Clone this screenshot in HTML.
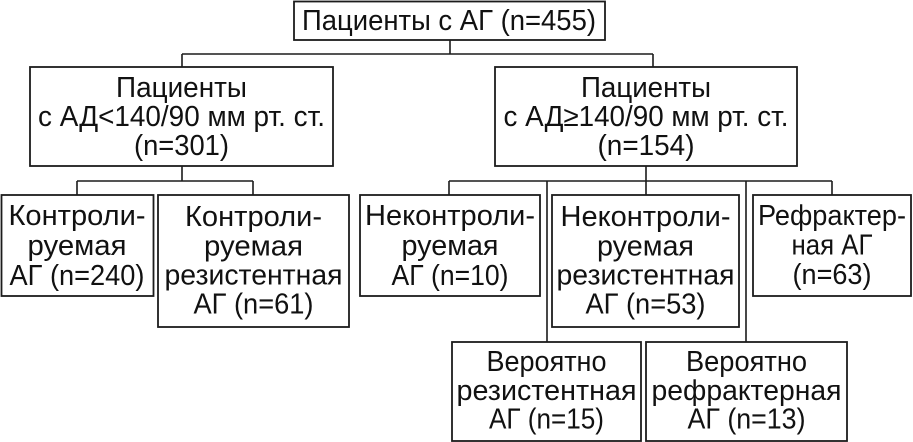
<!DOCTYPE html>
<html>
<head>
<meta charset="utf-8">
<style>
  html, body { margin: 0; padding: 0; background: #fff; }
  svg { display: block; }
  text { font-family: "Liberation Sans", "DejaVu Sans", sans-serif; font-size: 28.5px; fill: #111; text-anchor: middle; }
  .b { fill: #fff; stroke: #1c1c1c; stroke-width: 1.8; }
  .l { fill: none; stroke: #1c1c1c; stroke-width: 1.6; }
</style>
</head>
<body>
<svg width="913" height="442" viewBox="0 0 913 442" xmlns="http://www.w3.org/2000/svg">
  <!-- connectors -->
  <path class="l" d="M450 40 V54 M182 54 H653 M182 54 V67 M653 54 V67"/>
  <path class="l" d="M182 166 V181 M77 181 H253 M77 181 V195 M253 181 V195"/>
  <path class="l" d="M646 166 V181 M449 181 H832 M449 181 V195 M646 181 V195 M832 181 V195 M547 181 V342 M746 181 V342"/>

  <!-- top -->
  <rect class="b" x="294" y="1.5" width="311" height="38.5"/>
  <text x="449" y="30" textLength="294" lengthAdjust="spacingAndGlyphs">Пациенты с АГ (n=455)</text>

  <!-- level 2 -->
  <rect class="b" x="30" y="67" width="303" height="99"/>
  <text x="181.5" y="97" textLength="131" lengthAdjust="spacingAndGlyphs">Пациенты</text>
  <text x="181.5" y="126" textLength="287" lengthAdjust="spacingAndGlyphs">с АД&lt;140/90 мм рт. ст.</text>
  <text x="181.5" y="155" textLength="95" lengthAdjust="spacingAndGlyphs">(n=301)</text>

  <rect class="b" x="495" y="67" width="302" height="99"/>
  <text x="646" y="97" textLength="130" lengthAdjust="spacingAndGlyphs">Пациенты</text>
  <text x="646" y="126" textLength="285" lengthAdjust="spacingAndGlyphs">с АД≥140/90 мм рт. ст.</text>
  <text x="646" y="155" textLength="97" lengthAdjust="spacingAndGlyphs">(n=154)</text>

  <!-- level 3 -->
  <rect class="b" x="1.5" y="195" width="152" height="101"/>
  <text x="77" y="225" textLength="137" lengthAdjust="spacingAndGlyphs">Контроли-</text>
  <text x="77" y="255" textLength="99" lengthAdjust="spacingAndGlyphs">руемая</text>
  <text x="77" y="285" textLength="135" lengthAdjust="spacingAndGlyphs">АГ (n=240)</text>

  <rect class="b" x="158" y="195" width="191" height="132"/>
  <text x="253.5" y="226" textLength="137" lengthAdjust="spacingAndGlyphs">Контроли-</text>
  <text x="253.5" y="255.5" textLength="99" lengthAdjust="spacingAndGlyphs">руемая</text>
  <text x="253.5" y="284.5" textLength="178" lengthAdjust="spacingAndGlyphs">резистентная</text>
  <text x="253.5" y="313.5" textLength="120" lengthAdjust="spacingAndGlyphs">АГ (n=61)</text>

  <rect class="b" x="360" y="195" width="180" height="101"/>
  <text x="450" y="225" textLength="170" lengthAdjust="spacingAndGlyphs">Неконтроли-</text>
  <text x="450" y="255" textLength="97" lengthAdjust="spacingAndGlyphs">руемая</text>
  <text x="450" y="285" textLength="117" lengthAdjust="spacingAndGlyphs">АГ (n=10)</text>

  <rect class="b" x="552" y="195" width="187" height="132"/>
  <text x="645.5" y="226" textLength="170" lengthAdjust="spacingAndGlyphs">Неконтроли-</text>
  <text x="645.5" y="255.5" textLength="97" lengthAdjust="spacingAndGlyphs">руемая</text>
  <text x="645.5" y="284.5" textLength="178" lengthAdjust="spacingAndGlyphs">резистентная</text>
  <text x="645.5" y="313.5" textLength="120" lengthAdjust="spacingAndGlyphs">АГ (n=53)</text>

  <rect class="b" x="753" y="195" width="158" height="101"/>
  <text x="832" y="225" textLength="148" lengthAdjust="spacingAndGlyphs">Рефрактер-</text>
  <text x="832" y="254.5" textLength="81" lengthAdjust="spacingAndGlyphs">ная АГ</text>
  <text x="832" y="284" textLength="79" lengthAdjust="spacingAndGlyphs">(n=63)</text>

  <!-- level 4 -->
  <rect class="b" x="452" y="342" width="189" height="99"/>
  <text x="546.5" y="371" textLength="120" lengthAdjust="spacingAndGlyphs">Вероятно</text>
  <text x="546.5" y="400" textLength="180" lengthAdjust="spacingAndGlyphs">резистентная</text>
  <text x="546.5" y="428.5" textLength="115" lengthAdjust="spacingAndGlyphs">АГ (n=15)</text>

  <rect class="b" x="646" y="342" width="201" height="99"/>
  <text x="746.5" y="371" textLength="121" lengthAdjust="spacingAndGlyphs">Вероятно</text>
  <text x="746.5" y="400" textLength="190" lengthAdjust="spacingAndGlyphs">рефрактерная</text>
  <text x="746.5" y="428.5" textLength="118" lengthAdjust="spacingAndGlyphs">АГ (n=13)</text>
</svg>
</body>
</html>
